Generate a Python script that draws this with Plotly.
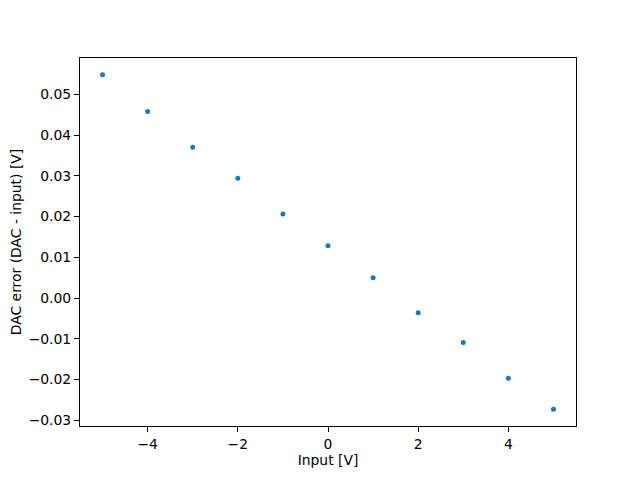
import plotly.graph_objects as go

inputs = [-5, -4, -3, -2, -1, 0, 1, 2, 3, 4, 5]
errors = [0.0548, 0.0458, 0.0370, 0.0294, 0.0206, 0.0128, 0.0050, -0.0036, -0.0109, -0.0197, -0.0273]

fig = go.Figure()
fig.add_trace(go.Scatter(x=inputs, y=errors, mode="markers",
                         marker=dict(color="#1f77b4", size=5, line=dict(width=0))))

axis_common = dict(showgrid=False, zeroline=False, showline=True, linecolor="black",
                   linewidth=1, mirror=True, ticks="outside", ticklen=5, tickwidth=1,
                   automargin=False,
                   tickcolor="black", tickfont=dict(family="DejaVu Sans", size=13.9, color="black"))

fig.update_layout(
    width=632, height=472,
    margin=dict(l=72, r=64, t=50, b=54),
    paper_bgcolor="white", plot_bgcolor="white",
    showlegend=False,
    font=dict(family="DejaVu Sans", size=13.9, color="black"),
    xaxis=dict(range=[-5.5, 5.5], tickvals=[-4, -2, 0, 2, 4],
               title=dict(text="Input [V]", standoff=4, font=dict(size=13.9)), **axis_common),
    yaxis=dict(range=[-0.0314, 0.0589], tickvals=[-0.03, -0.02, -0.01, 0.0, 0.01, 0.02, 0.03, 0.04, 0.05],
               tickformat=".2f",
               title=dict(text="DAC error (DAC - input) [V]", standoff=8, font=dict(size=13.9)), **axis_common),
)

fig.write_html("out.html")
